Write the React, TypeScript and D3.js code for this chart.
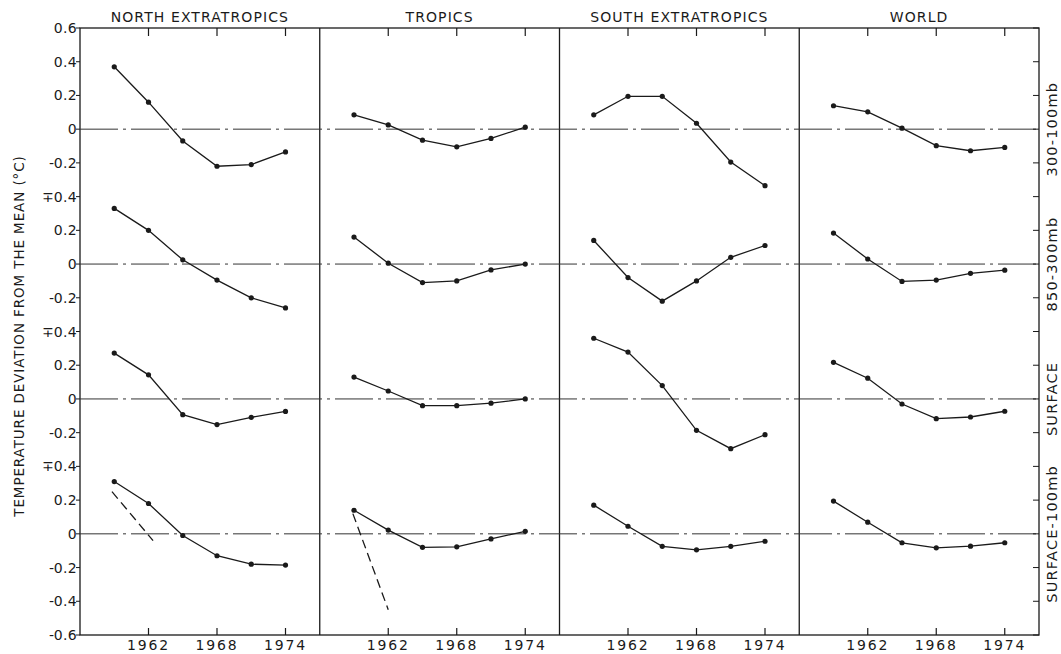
import React from "react";
import * as d3 from "d3";

const years = [1959, 1962, 1965, 1968, 1971, 1974];
const yearTicks = [1962, 1968, 1974];
const regions = ["NORTH EXTRATROPICS", "TROPICS", "SOUTH EXTRATROPICS", "WORLD"];
const layers = ["300-100mb", "850-300mb", "SURFACE", "SURFACE-100mb"];

// rows: 300-100mb, 850-300mb, surface, surface-100mb
const northExtratropics = [
  [0.37, 0.16, -0.07, -0.22, -0.21, -0.135],
  [0.33, 0.2, 0.025, -0.095, -0.2, -0.26],
  [0.272, 0.143, -0.093, -0.152, -0.109, -0.074],
  [0.31, 0.18, -0.01, -0.13, -0.18, -0.185],
];
const tropics = [
  [0.085, 0.025, -0.065, -0.105, -0.055, 0.012],
  [0.16, 0.005, -0.11, -0.1, -0.035, 0.0],
  [0.13, 0.047, -0.04, -0.04, -0.025, 0.0],
  [0.14, 0.022, -0.08, -0.077, -0.03, 0.015],
];
const southExtratropics = [
  [0.085, 0.195, 0.195, 0.035, -0.195, -0.335],
  [0.14, -0.08, -0.22, -0.1, 0.04, 0.11],
  [0.36, 0.278, 0.079, -0.186, -0.295, -0.212],
  [0.17, 0.045, -0.074, -0.095, -0.074, -0.044],
];
const world = [
  [0.139, 0.103, 0.006, -0.098, -0.128, -0.108],
  [0.184, 0.03, -0.103, -0.095, -0.055, -0.036],
  [0.217, 0.123, -0.03, -0.117, -0.107, -0.073],
  [0.194, 0.069, -0.053, -0.083, -0.073, -0.053],
];
const regionData = [northExtratropics, tropics, southExtratropics, world];

// dashed extrapolation segments ([year, value] pairs)
const dashedNorth = [[1958.8, 0.25], [1962.4, -0.04]];
const dashedTropics = [[1958.9, 0.12], [1962.0, -0.45]];
const dashedSegments = [
  { region: 0, row: 3, pts: dashedNorth },
  { region: 1, row: 3, pts: dashedTropics },
];

const yTickSigns = ["", "", "", "", "-", "\u2213", "", "", "-", "\u2213", "", "", "-", "\u2213", "", "", "-", "-", "-"];
const yTickNums = ["0.6", "0.4", "0.2", "0", "0.2", "0.4", "0.2", "0", "0.2", "0.4", "0.2", "0", "0.2", "0.4", "0.2", "0", "0.2", "0.4", "0.6"];

const W = 1061;
const H = 654;
const left = 80;
const right = 1039;
const top = 28;
const bottom = 635;
const rowOffset = 0.8;
const ink = "#1a1a1a";
const font = "'DejaVu Sans', sans-serif";

export default function App() {
  const panelW = (right - left) / 4;
  const y = d3.scaleLinear().domain([-3.0, 0.6]).range([bottom, top]);
  const yRow = (v: number, r: number) => y(v - rowOffset * r);
  const xFor = (i: number) =>
    d3.scaleLinear().domain([1956, 1977]).range([left + i * panelW, left + (i + 1) * panelW]);
  const tickVals = d3.range(19).map((k) => 0.6 - 0.2 * k);
  const line = d3.line<[number, number]>().x((d) => d[0]).y((d) => d[1]);
  const numW = (s: string) => (s.length === 1 ? 9.2 : 23);

  return (
    <svg width={W} height={H} style={{ position: "absolute", left: 0, top: 0, background: "#fff" }}>
      {/* frame */}
      <rect x={left} y={top} width={right - left} height={bottom - top} fill="none" stroke={ink} strokeWidth={1.3} />
      {[1, 2, 3].map((i) => (
        <line key={i} x1={left + i * panelW} x2={left + i * panelW} y1={top} y2={bottom} stroke={ink} strokeWidth={1.3} />
      ))}
      {/* zero lines */}
      {layers.map((_, r) => (
        <line key={r} x1={left} x2={right} y1={yRow(0, r)} y2={yRow(0, r)} stroke="#333" strokeWidth={1} strokeDasharray="38,5,3,5" />
      ))}
      {/* axis ticks & labels */}
      {tickVals.map((v, k) => (
        <g key={k}>
          <line x1={left - 4} x2={left} y1={y(v)} y2={y(v)} stroke={ink} strokeWidth={1} />
          <line x1={right - 6} x2={right} y1={y(v)} y2={y(v)} stroke={ink} strokeWidth={1} />
          <text x={left - 3} y={y(v)} dy="0.36em" textAnchor="end" fontFamily={font} fontSize={14} letterSpacing={0.3} fill={ink}>
            {yTickNums[k]}
          </text>
          {yTickSigns[k] && (
            <text x={left - 3 - numW(yTickNums[k])} y={y(v)} dy="0.36em" textAnchor="end" fontFamily={font} fontSize={14} fill={ink}>
              {yTickSigns[k]}
            </text>
          )}
        </g>
      ))}
      {/* panels */}
      {regions.map((name, i) => {
        const x = xFor(i);
        return (
          <g key={name}>
            <text x={(x.range()[0] + x.range()[1]) / 2} y={22} textAnchor="middle" fontFamily={font} fontSize={14} letterSpacing={1.1} fill={ink}>
              {name}
            </text>
            {yearTicks.map((t) => (
              <g key={t}>
                <line x1={x(t)} x2={x(t)} y1={top} y2={top + 8} stroke={ink} strokeWidth={1.2} />
                <line x1={x(t)} x2={x(t)} y1={bottom} y2={bottom - 7} stroke={ink} strokeWidth={1.2} />
                <text x={x(t)} y={650} textAnchor="middle" fontFamily={font} fontSize={14} letterSpacing={1.8} fill={ink}>
                  {t}
                </text>
              </g>
            ))}
            {regionData[i].map((vals, r) => {
              const pts: [number, number][] = vals.map((v, j) => [x(years[j]), yRow(v, r)]);
              return (
                <g key={r}>
                  <path d={line(pts) || ""} fill="none" stroke={ink} strokeWidth={1.3} />
                  {pts.map((p, j) => (
                    <circle key={j} cx={p[0]} cy={p[1]} r={2.6} fill={ink} />
                  ))}
                </g>
              );
            })}
          </g>
        );
      })}
      {/* dashed segments */}
      {dashedSegments.map((s, k) => {
        const x = xFor(s.region);
        const pts: [number, number][] = s.pts.map((p) => [x(p[0]), yRow(p[1], s.row)]);
        return <path key={k} d={line(pts) || ""} fill="none" stroke={ink} strokeWidth={1.3} strokeDasharray="9,5" />;
      })}
      {/* right layer labels */}
      {layers.map((lab, r) => (
        <text
          key={lab}
          transform={`translate(1052,${yRow(0, r)}) rotate(-90)`}
          textAnchor="middle"
          dy="0.36em"
          fontFamily={font}
          fontSize={14.5}
          letterSpacing={1.2}
          fill={ink}
        >
          {lab}
        </text>
      ))}
      {/* y axis title */}
      <text
        transform={`translate(19,336) rotate(-90)`}
        textAnchor="middle"
        dy="0.36em"
        fontFamily={font}
        fontSize={13.5}
        letterSpacing={0.9}
        fill={ink}
      >
        TEMPERATURE DEVIATION FROM THE MEAN (°C)
      </text>
    </svg>
  );
}
